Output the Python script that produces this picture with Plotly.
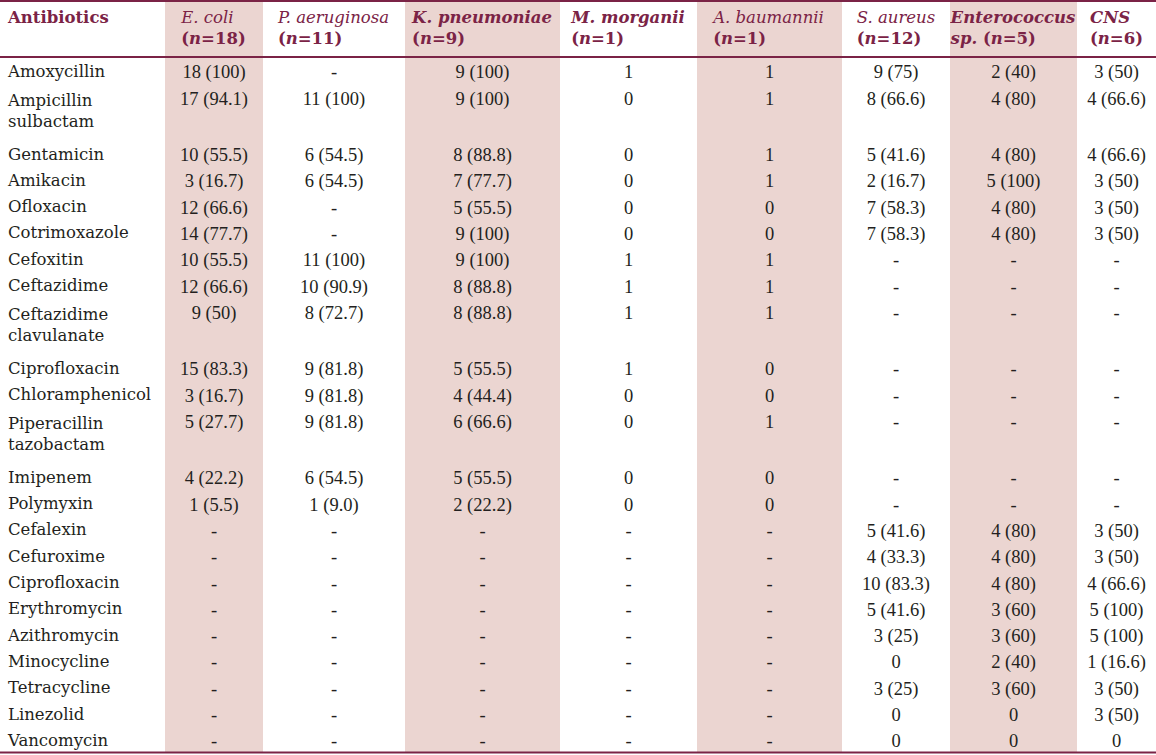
import plotly.graph_objects as go

# ---- data ----
antibiotics = ["Amoxycillin", "Ampicillin<br>sulbactam", "Gentamicin", "Amikacin", "Ofloxacin",
               "Cotrimoxazole", "Cefoxitin", "Ceftazidime", "Ceftazidime<br>clavulanate",
               "Ciprofloxacin", "Chloramphenicol", "Piperacillin<br>tazobactam", "Imipenem",
               "Polymyxin", "Cefalexin", "Cefuroxime", "Ciprofloxacin", "Erythromycin",
               "Azithromycin", "Minocycline", "Tetracycline", "Linezolid", "Vancomycin"]

header_labels = ["<b>Antibiotics</b>",
                 "<i>E. coli</i><br><b>(<i>n</i>=18)</b>",
                 "<i>P. aeruginosa</i><br><b>(<i>n</i>=11)</b>",
                 "<b><i>K. pneumoniae</i><br>(<i>n</i>=9)</b>",
                 "<b><i>M. morganii</i><br>(<i>n</i>=1)</b>",
                 "<i>A. baumannii</i><br><b>(<i>n</i>=1)</b>",
                 "<i>S. aureus</i><br><b>(<i>n</i>=12)</b>",
                 "<b><i>Enterococcus</i><br><i>sp.</i> (<i>n</i>=5)</b>",
                 "<b><i>CNS</i><br>(<i>n</i>=6)</b>"]

e_coli = ["18 (100)", "17 (94.1)", "10 (55.5)", "3 (16.7)", "12 (66.6)", "14 (77.7)", "10 (55.5)",
          "12 (66.6)", "9 (50)", "15 (83.3)", "3 (16.7)", "5 (27.7)", "4 (22.2)", "1 (5.5)",
          "-", "-", "-", "-", "-", "-", "-", "-", "-"]
p_aeruginosa = ["-", "11 (100)", "6 (54.5)", "6 (54.5)", "-", "-", "11 (100)", "10 (90.9)",
                "8 (72.7)", "9 (81.8)", "9 (81.8)", "9 (81.8)", "6 (54.5)", "1 (9.0)",
                "-", "-", "-", "-", "-", "-", "-", "-", "-"]
k_pneumoniae = ["9 (100)", "9 (100)", "8 (88.8)", "7 (77.7)", "5 (55.5)", "9 (100)", "9 (100)",
                "8 (88.8)", "8 (88.8)", "5 (55.5)", "4 (44.4)", "6 (66.6)", "5 (55.5)", "2 (22.2)",
                "-", "-", "-", "-", "-", "-", "-", "-", "-"]
m_morganii = ["1", "0", "0", "0", "0", "0", "1", "1", "1", "1", "0", "0", "0", "0",
              "-", "-", "-", "-", "-", "-", "-", "-", "-"]
a_baumannii = ["1", "1", "1", "1", "0", "0", "1", "1", "1", "0", "0", "1", "0", "0",
               "-", "-", "-", "-", "-", "-", "-", "-", "-"]
s_aureus = ["9 (75)", "8 (66.6)", "5 (41.6)", "2 (16.7)", "7 (58.3)", "7 (58.3)", "-", "-", "-",
            "-", "-", "-", "-", "-", "5 (41.6)", "4 (33.3)", "10 (83.3)", "5 (41.6)", "3 (25)",
            "0", "3 (25)", "0", "0"]
enterococcus = ["2 (40)", "4 (80)", "4 (80)", "5 (100)", "4 (80)", "4 (80)", "-", "-", "-",
                "-", "-", "-", "-", "-", "4 (80)", "4 (80)", "4 (80)", "3 (60)", "3 (60)",
                "2 (40)", "3 (60)", "0", "0"]
cns = ["3 (50)", "4 (66.6)", "4 (66.6)", "3 (50)", "3 (50)", "3 (50)", "-", "-", "-",
       "-", "-", "-", "-", "-", "3 (50)", "3 (50)", "4 (66.6)", "5 (100)", "5 (100)",
       "1 (16.6)", "3 (50)", "3 (50)", "0"]

# ---- style ----
SHADE = "#ebd5d1"
WHITE = "#ffffff"
RED = "#7b2346"
TEXT = "#231f20"
NAME_FONT = "DejaVu Serif"
NUM_FONT = "Liberation Serif"
col_widths = [165, 98, 142, 155, 137, 145, 108, 127, 79]
col_fills = [WHITE, SHADE, WHITE, SHADE, WHITE, SHADE, WHITE, SHADE, WHITE]

W, H = 1156, 755
HEADER_H = 56


def nowrap(col):
    # non-breaking spaces keep "n (pct)" on one line in narrow columns
    return [s.replace(" ", "\u00a0") for s in col]


num_cols = [e_coli, p_aeruginosa, k_pneumoniae, m_morganii, a_baumannii,
            s_aureus, enterococcus, cns]

fig = go.Figure(go.Table(
    columnwidth=col_widths,
    header=dict(
        values=header_labels,
        fill_color=col_fills,
        line=dict(color=col_fills, width=0),
        align=["left"] + ["center"] * 8,
        font=dict(family=NAME_FONT, size=16.5, color=RED),
        height=HEADER_H,
    ),
    cells=dict(
        values=[antibiotics] + [nowrap(c) for c in num_cols],
        fill_color=col_fills,
        line=dict(color=col_fills, width=0),
        align=["left"] + ["center"] * 8,
        font=dict(family=[NAME_FONT] + [NUM_FONT] * 8,
                  size=[16.5] + [18.5] * 8, color=TEXT),
        height=26.3,
    ),
    domain=dict(x=[0, 1], y=[0, 1]),
))

# horizontal rules (top, below header, bottom)
for y_px in [1, 57, 752.5]:
    yy = 1 - y_px / H
    fig.add_shape(type="line", xref="paper", yref="paper", x0=0, x1=1, y0=yy, y1=yy,
                  line=dict(color=RED, width=2))

fig.update_layout(width=W, height=H, margin=dict(l=0, r=0, t=0, b=0),
                  paper_bgcolor="white", plot_bgcolor="white")
fig.write_html("out.html", config={"displayModeBar": False},
               post_script="document.body.style.margin='0px';")
